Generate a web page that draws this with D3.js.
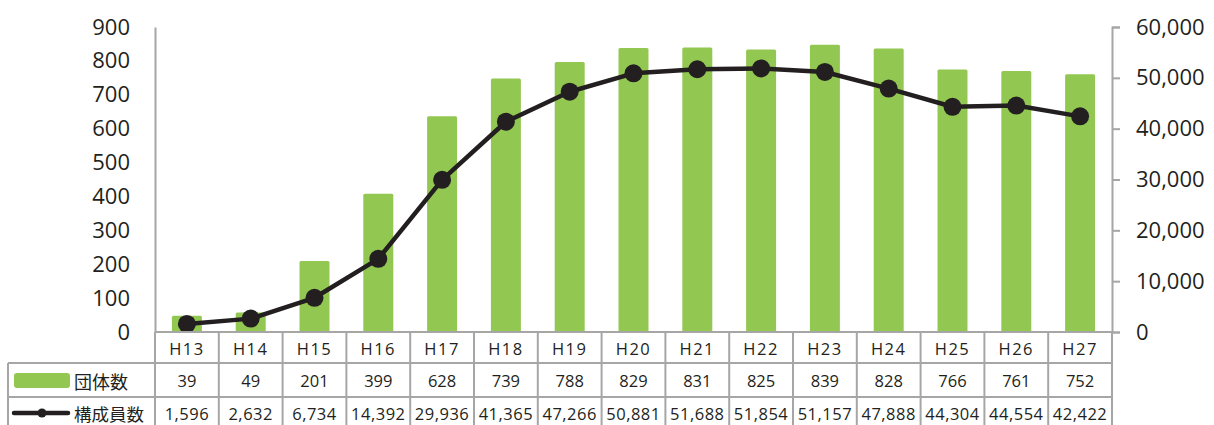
<!DOCTYPE html>
<html>
<head>
<meta charset="utf-8">
<script src="https://cdn.jsdelivr.net/npm/d3@7"></script>
<style>
  body { margin: 0; background: #fff; }
  text { font-family: "Open Sans", "Noto Sans", sans-serif; fill: #231f20; }
</style>
</head>
<body>
<div id="chart"></div>
<script>
const years = ["H13", "H14", "H15", "H16", "H17", "H18", "H19", "H20", "H21", "H22", "H23", "H24", "H25", "H26", "H27"];
const groups = [39, 49, 201, 399, 628, 739, 788, 829, 831, 825, 839, 828, 766, 761, 752];
const members = [1596, 2632, 6734, 14392, 29936, 41365, 47266, 50881, 51688, 51854, 51157, 47888, 44304, 44554, 42422];
const leftTicks = [0, 100, 200, 300, 400, 500, 600, 700, 800, 900];
const rightTicks = [0, 10000, 20000, 30000, 40000, 50000, 60000];

const width = 1214, height = 425;
const plot = { left: 155, right: 1112, top: 27, bottom: 332 };
const rows = { cat: 332, grp: 363, mem: 397, end: 430 };
const tableLeft = 8;
const green = "#92c852";
const gridColor = "#a6a6a6";
const ink = "#231f20";

const svg = d3.select("#chart").append("svg")
    .attr("width", width)
    .attr("height", height)
    .attr("viewBox", [0, 0, width, height]);

const x = d3.scaleBand(years, [plot.left, plot.right]).paddingInner(0.53).paddingOuter(0.265);
const xCell = d3.scaleBand(years, [plot.left, plot.right]);
const yLeft = d3.scaleLinear([0, 900], [plot.bottom, plot.top]);
const yRight = d3.scaleLinear([0, 60000], [plot.bottom, plot.top]);

// bars (excel draws them a touch taller than the gridline scale)
const barLift = 3;
svg.append("g")
  .selectAll("rect")
  .data(groups)
  .join("rect")
    .attr("x", (d, i) => x(years[i]))
    .attr("y", d => yLeft(d) - barLift)
    .attr("width", x.bandwidth())
    .attr("height", d => yLeft(0) - yLeft(d) + barLift)
    .attr("rx", 1.5)
    .attr("fill", green);

// left axis
const leftAxis = svg.append("g")
    .attr("transform", `translate(${plot.left}, 0)`)
    .call(d3.axisLeft(yLeft).tickValues(leftTicks).tickSize(0).tickPadding(25));
leftAxis.select(".domain").attr("stroke", gridColor).attr("stroke-width", 2);
leftAxis.selectAll("text").attr("font-size", 22).attr("fill", ink)
    .style("font-family", "'Open Sans', sans-serif");

// right axis
const rightAxis = svg.append("g")
    .attr("transform", `translate(${plot.right}, 0)`)
    .call(d3.axisRight(yRight).tickValues(rightTicks).tickSize(8).tickPadding(16).tickFormat(d3.format(",")));
rightAxis.select(".domain").attr("stroke", gridColor).attr("stroke-width", 2);
rightAxis.selectAll(".tick line").attr("stroke", gridColor).attr("stroke-width", 2);
rightAxis.selectAll("text").attr("font-size", 22).attr("fill", ink)
    .style("font-family", "'Open Sans', sans-serif");

// line
const line = d3.line()
    .x((d, i) => x(years[i]) + x.bandwidth() / 2)
    .y(d => yRight(d));

svg.append("path")
    .attr("fill", "none")
    .attr("stroke", ink)
    .attr("stroke-width", 4.5)
    .attr("stroke-linejoin", "round")
    .attr("d", line(members));

svg.append("g")
  .selectAll("circle")
  .data(members)
  .join("circle")
    .attr("cx", (d, i) => x(years[i]) + x.bandwidth() / 2)
    .attr("cy", d => yRight(d))
    .attr("r", 9)
    .attr("fill", ink);

// data table
const table = svg.append("g").attr("stroke", gridColor).attr("stroke-width", 2);
table.append("line").attr("x1", plot.left).attr("x2", plot.right).attr("y1", rows.cat).attr("y2", rows.cat);
[rows.grp, rows.mem].forEach(yy => {
  table.append("line").attr("x1", tableLeft).attr("x2", plot.right).attr("y1", yy).attr("y2", yy);
});
table.append("line").attr("x1", tableLeft).attr("x2", tableLeft).attr("y1", rows.grp).attr("y2", rows.end);
years.concat(["end"]).forEach((c, i) => {
  const xx = i < years.length ? xCell(c) : plot.right;
  table.append("line").attr("x1", xx).attr("x2", xx).attr("y1", rows.cat).attr("y2", rows.end);
});

const cellText = (vals, yy, fmt) => svg.append("g")
  .selectAll("text")
  .data(vals)
  .join("text")
    .attr("x", (d, i) => xCell(years[i]) + xCell.bandwidth() / 2)
    .attr("y", yy)
    .attr("text-anchor", "middle")
    .attr("dominant-baseline", "central")
    .attr("font-size", 16.5)
    .text(fmt);

cellText(years, (rows.cat + rows.grp) / 2 + 1, d => d).attr("letter-spacing", 1.5);
cellText(groups, (rows.grp + rows.mem) / 2, d => d);
cellText(members, 413, d3.format(",")).attr("letter-spacing", 0.5);

// legend cells
svg.append("rect")
    .attr("x", 14).attr("y", 373).attr("width", 56).attr("height", 15)
    .attr("rx", 3).attr("fill", green);
svg.append("line")
    .attr("x1", 14).attr("x2", 68).attr("y1", 413).attr("y2", 413)
    .attr("stroke", ink).attr("stroke-width", 4.5).attr("stroke-linecap", "round");
svg.append("circle").attr("cx", 42).attr("cy", 413).attr("r", 4.5).attr("fill", ink);

svg.append("text").attr("x", 74).attr("y", 381).attr("dominant-baseline", "central")
    .attr("font-size", 18).style("font-family", "'Noto Sans CJK JP', sans-serif").text("団体数");
svg.append("text").attr("x", 74).attr("y", 413).attr("dominant-baseline", "central")
    .attr("font-size", 17.5).style("font-family", "'Noto Sans CJK JP', sans-serif").text("構成員数");
</script>
</body>
</html>
